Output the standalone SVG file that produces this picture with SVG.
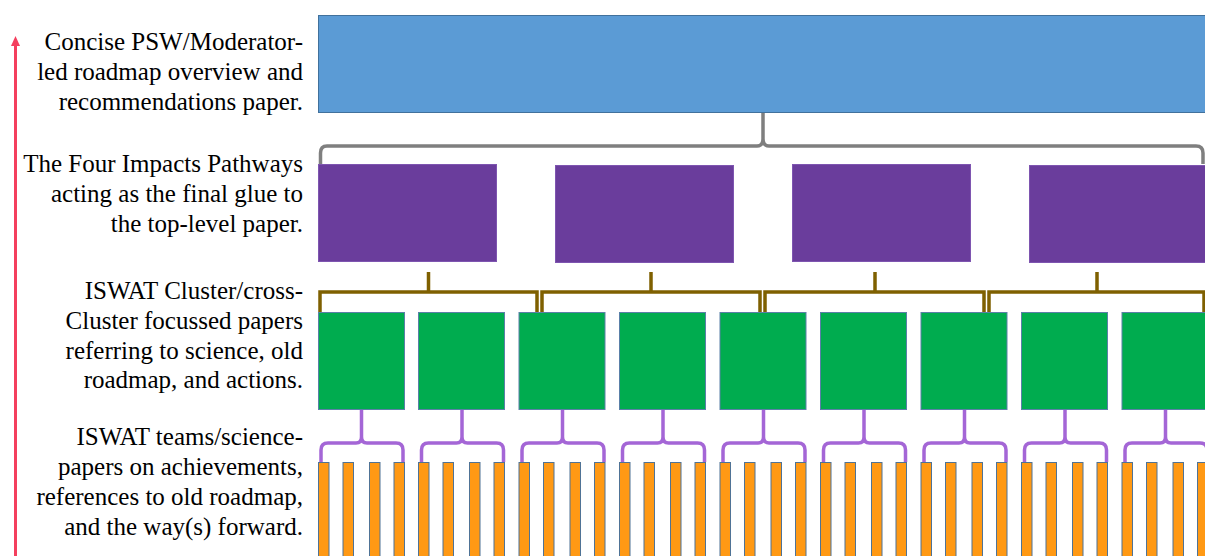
<svg xmlns="http://www.w3.org/2000/svg" width="1205" height="556" viewBox="0 0 1205 556">
<defs>
<marker id="ah" viewBox="0 0 10 9" refX="0" refY="4.5" markerWidth="10" markerHeight="9" markerUnits="userSpaceOnUse" orient="auto">
<path d="M0,0 L10,4.5 L0,9 Z" fill="#F43F5E"/>
</marker>
<path id="brace" d="M321,462 L321,450 Q321,443 328,443 L356,443 Q361.5,443 361.5,437 L361.5,410 M361.5,437 Q361.5,443 367,443 L396,443 Q403,443 403,450 L403,462"/>
</defs>
<rect width="1205" height="556" fill="#fff"/>

<g id="labels" font-family="Liberation Serif" font-size="25" text-anchor="end" fill="#000">
<text style="font-family:'Liberation Serif',serif !important" x="303" y="50">Concise PSW/Moderator-</text>
<text style="font-family:'Liberation Serif',serif !important" x="303" y="80">led roadmap overview  and</text>
<text style="font-family:'Liberation Serif',serif !important" x="303" y="110">recommendations paper.</text>
<text style="font-family:'Liberation Serif',serif !important" x="303" y="172">The Four Impacts Pathways</text>
<text style="font-family:'Liberation Serif',serif !important" x="303" y="202">acting as the final glue to</text>
<text style="font-family:'Liberation Serif',serif !important" x="303" y="232">the top-level paper.</text>
<text style="font-family:'Liberation Serif',serif !important" x="303" y="299">ISWAT Cluster/cross-</text>
<text style="font-family:'Liberation Serif',serif !important" x="303" y="329">Cluster focussed papers</text>
<text style="font-family:'Liberation Serif',serif !important" x="303" y="359">referring to science, old</text>
<text style="font-family:'Liberation Serif',serif !important" x="303" y="388">roadmap, and actions.</text>
<text style="font-family:'Liberation Serif',serif !important" x="303" y="445">ISWAT teams/science-</text>
<text style="font-family:'Liberation Serif',serif !important" x="303" y="475">papers on achievements,</text>
<text style="font-family:'Liberation Serif',serif !important" x="303" y="505">references to old roadmap,</text>
<text style="font-family:'Liberation Serif',serif !important" x="303" y="535">and the way(s) forward.</text>
</g>

<g id="axis-arrow">
<line x1="15.5" y1="556" x2="15.5" y2="46" stroke="#F43F5E" stroke-width="3" marker-end="url(#ah)"/>
</g>

<g id="top-paper"><rect fill="#5B9BD5" stroke="#41719C" x="318.5" y="15.5" width="890" height="97"/></g>

<g id="impacts" fill="#6A3D9C" stroke="#7E55B0">
<g id="impact-1"><rect x="318.5" y="164.5" width="178" height="97"/></g>
<g id="impact-2"><rect x="555.5" y="165.5" width="178" height="97"/></g>
<g id="impact-3"><rect x="792.5" y="164.5" width="178" height="97"/></g>
<g id="impact-4"><rect x="1029.5" y="165.5" width="180" height="97"/></g>
</g>

<g id="clusters" fill="#00AC4F" stroke="#5A80A8">
<g id="cluster-1"><rect x="318.5" y="312.5" width="86" height="97"/></g>
<g id="cluster-2"><rect x="418.5" y="312.5" width="86" height="97"/></g>
<g id="cluster-3"><rect x="519" y="312.5" width="86" height="97"/></g>
<g id="cluster-4"><rect x="619.5" y="312.5" width="86" height="97"/></g>
<g id="cluster-5"><rect x="720" y="312.5" width="86" height="97"/></g>
<g id="cluster-6"><rect x="820.5" y="312.5" width="86" height="97"/></g>
<g id="cluster-7"><rect x="921" y="312.5" width="86" height="97"/></g>
<g id="cluster-8"><rect x="1021.5" y="312.5" width="86" height="97"/></g>
<g id="cluster-9"><rect x="1122" y="312.5" width="90" height="97"/></g>
</g>

<g id="teams" fill="#FF9914" stroke="#4F7396">
<g id="teams-1"><rect x="318.5" y="462.5" width="10.5" height="100"/><rect x="343" y="462.5" width="10.5" height="100"/><rect x="369.5" y="462.5" width="10.5" height="100"/><rect x="394" y="462.5" width="10.5" height="100"/></g>
<g id="teams-2"><rect x="418.5" y="462.5" width="10.5" height="100"/><rect x="443" y="462.5" width="10.5" height="100"/><rect x="469.5" y="462.5" width="10.5" height="100"/><rect x="494" y="462.5" width="10.5" height="100"/></g>
<g id="teams-3"><rect x="519" y="462.5" width="10.5" height="100"/><rect x="543.5" y="462.5" width="10.5" height="100"/><rect x="570" y="462.5" width="10.5" height="100"/><rect x="594.5" y="462.5" width="10.5" height="100"/></g>
<g id="teams-4"><rect x="619.5" y="462.5" width="10.5" height="100"/><rect x="644" y="462.5" width="10.5" height="100"/><rect x="670.5" y="462.5" width="10.5" height="100"/><rect x="695" y="462.5" width="10.5" height="100"/></g>
<g id="teams-5"><rect x="720" y="462.5" width="10.5" height="100"/><rect x="744.5" y="462.5" width="10.5" height="100"/><rect x="771" y="462.5" width="10.5" height="100"/><rect x="795.5" y="462.5" width="10.5" height="100"/></g>
<g id="teams-6"><rect x="820.5" y="462.5" width="10.5" height="100"/><rect x="845" y="462.5" width="10.5" height="100"/><rect x="871.5" y="462.5" width="10.5" height="100"/><rect x="896" y="462.5" width="10.5" height="100"/></g>
<g id="teams-7"><rect x="921" y="462.5" width="10.5" height="100"/><rect x="945.5" y="462.5" width="10.5" height="100"/><rect x="972" y="462.5" width="10.5" height="100"/><rect x="996.5" y="462.5" width="10.5" height="100"/></g>
<g id="teams-8"><rect x="1021.5" y="462.5" width="10.5" height="100"/><rect x="1046" y="462.5" width="10.5" height="100"/><rect x="1072.5" y="462.5" width="10.5" height="100"/><rect x="1097" y="462.5" width="10.5" height="100"/></g>
<g id="teams-9"><rect x="1122" y="462.5" width="10.5" height="100"/><rect x="1146.5" y="462.5" width="10.5" height="100"/><rect x="1173" y="462.5" width="10.5" height="100"/><rect x="1197.5" y="462.5" width="10.5" height="100"/></g>
</g>

<g id="connectors" fill="none" stroke-width="3.5">
<path stroke="#7F7F7F" d="M320.5,164 L320.5,153 Q320.5,146 327,146 L757,146 Q763,146 763,139 L763,113 M763,139 Q763,146 769,146 L1196,146 Q1203,146 1203,153 L1203,164"/>
<g stroke="#7F6000">
<path d="M320,312 L320,292 L537,292 L537,312 M428.5,292 L428.5,272"/>
<path d="M542,312 L542,292 L760,292 L760,312 M651,292 L651,272"/>
<path d="M765,312 L765,292 L984,292 L984,312 M875,292 L875,272"/>
<path d="M989,312 L989,292 L1204,292 L1204,312 M1097,292 L1097,272"/>
</g>
<g id="braces" stroke="#A466D6">
<use href="#brace"/>
<use href="#brace" x="100.5"/>
<use href="#brace" x="201"/>
<use href="#brace" x="301.5"/>
<use href="#brace" x="402"/>
<use href="#brace" x="502.5"/>
<use href="#brace" x="603"/>
<use href="#brace" x="703.5"/>
<use href="#brace" x="804"/>
</g>
</g>
</svg>
